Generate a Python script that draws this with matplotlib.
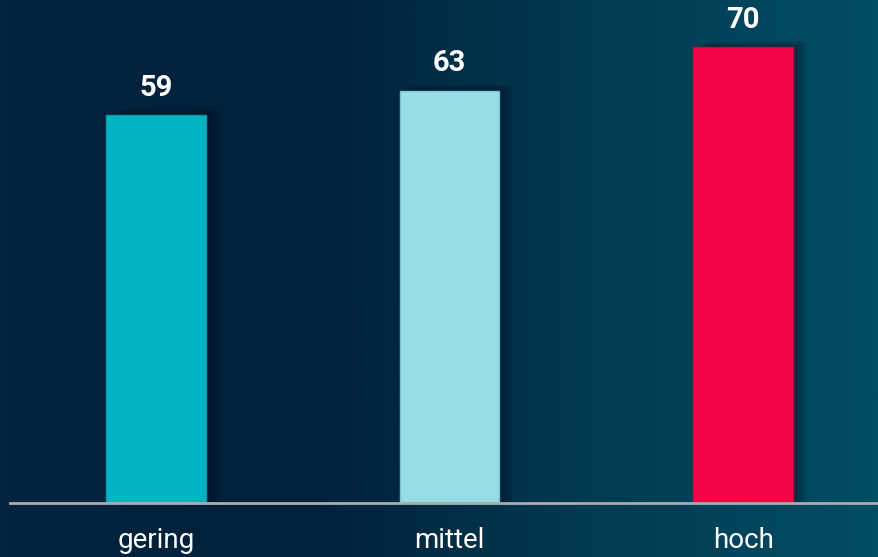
import matplotlib

matplotlib.use("Agg")
import matplotlib.pyplot as plt
import numpy as np
from matplotlib.colors import LinearSegmentedColormap
from matplotlib.patches import Rectangle

categories = ["gering", "mittel", "hoch"]
values = [59, 63, 70]
bar_colors = ["#03b3c4", "#96dde5", "#f20545"]
edge_colors = ["#0e9aa9", "#7fc3cc", "#d00a3e"]

plt.rcParams["font.family"] = ["Roboto", "DejaVu Sans"]

W, H = 879, 557
fig = plt.figure(figsize=(W / 100, H / 100), dpi=100)

# background: horizontal gradient, dark navy to teal
bg = fig.add_axes([0, 0, 1, 1], zorder=0)
bg_cmap = LinearSegmentedColormap.from_list(
    "bg",
    [(0.0, "#03233f"), (0.35, "#01213a"), (0.67, "#013a52"), (1.0, "#024e64")],
)
bg.imshow(np.linspace(0, 1, 512)[None, :], aspect="auto", cmap=bg_cmap,
          extent=[0, 1, 0, 1])
bg.set_axis_off()

px_per_unit = 6.18
base_y = 503
y_min = -3.74
ax = fig.add_axes([10 / W, (H - base_y) / H, 869 / W, base_y / H], zorder=1)
ax.patch.set_alpha(0)
ax.set_xlim(-0.497, 2.463)
ax.set_ylim(y_min, y_min + base_y / px_per_unit)

x = np.arange(len(categories))
width = 0.34
heights = [v - y_min for v in values]

# soft shadow on the right of each bar
for xi, h in zip(x, heights):
    for k in range(1, 9):
        off = k * 0.006
        ax.add_patch(Rectangle((xi - width / 2 + off, y_min), width, h + k * 0.12,
                               facecolor="#000814", alpha=0.06, lw=0, zorder=1))

ax.bar(x, heights, bottom=y_min, width=width, color=bar_colors,
       edgecolor=edge_colors, linewidth=1, zorder=2)

for xi, v in zip(x, values):
    ax.text(xi, v + 3.1, f"{v}", ha="center", va="baseline", color="white",
            fontsize=21, fontweight="bold", zorder=3)

ax.axhline(y_min, color="#a9adb1", lw=2, zorder=3, clip_on=False)

ax.set_xticks(x)
ax.set_xticklabels(categories, fontsize=20, color="white")
ax.tick_params(axis="x", length=0, pad=17)
ax.set_yticks([])
for s in ax.spines.values():
    s.set_visible(False)

fig.savefig("out.png", dpi=100)
